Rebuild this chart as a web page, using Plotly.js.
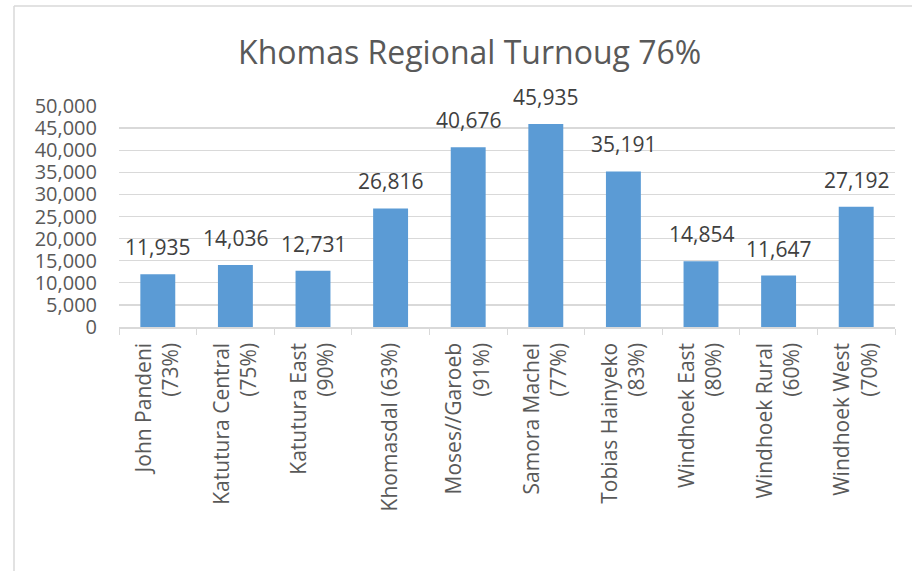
<!DOCTYPE html>
<html>
<head>
<meta charset="utf-8">
<script src="https://cdn.plot.ly/plotly-3.0.1.min.js"></script>
<style>html,body{margin:0;padding:0;background:#fff;}#chart{width:912px;height:571px;}</style>
</head>
<body>
<div id="chart"></div>
<script>
const constituencies = [
  "John Pandeni<br>(73%)",
  "Katutura Central<br>(75%)",
  "Katutura East<br>(90%)",
  "Khomasdal (63%)",
  "Moses//Garoeb<br>(91%)",
  "Samora Machel<br>(77%)",
  "Tobias Hainyeko<br>(83%)",
  "Windhoek East<br>(80%)",
  "Windhoek Rural<br>(60%)",
  "Windhoek West<br>(70%)"
];
const votes = [11935, 14036, 12731, 26816, 40676, 45935, 35191, 14854, 11647, 27192];
const yTicks = [0, 5000, 10000, 15000, 20000, 25000, 30000, 35000, 40000, 45000, 50000];
const titleText = "Khomas Regional Turnoug 76%";

const FONT = "Open Sans, sans-serif";
const fmt = v => v.toLocaleString("en-US");

const trace = {
  type: "bar",
  x: constituencies,
  y: votes,
  marker: {color: "#5B9BD5"},
  hoverinfo: "x+y"
};

const labels = constituencies.map((c, i) => ({
  xref: "x", yref: "y",
  x: c, y: votes[i],
  text: fmt(votes[i]),
  showarrow: false,
  yanchor: "bottom",
  yshift: 11,
  font: {family: FONT, size: 21, color: "#404040"}
}));

const layout = {
  width: 912,
  height: 571,
  margin: {l: 119, r: 17, t: 106, b: 244},
  paper_bgcolor: "#ffffff",
  plot_bgcolor: "#ffffff",
  showlegend: false,
  bargap: 0.55,
  title: {
    text: titleText,
    font: {family: FONT, size: 32, color: "#595959"},
    x: 0.515, xanchor: "center",
    y: 0.907, yanchor: "middle"
  },
  xaxis: {
    type: "category",
    tickangle: -90,
    tickfont: {family: FONT, size: 21, color: "#595959"},
    showline: true,
    linecolor: "#d9d9d9",
    linewidth: 1.5,
    ticks: "outside",
    tickson: "boundaries",
    ticklen: 6,
    tickcolor: "#d9d9d9",
    ticklabelstandoff: 6,
    showgrid: false,
    automargin: false
  },
  yaxis: {
    range: [0, 50000],
    tickvals: yTicks,
    ticktext: yTicks.map(fmt),
    tickfont: {family: FONT, size: 20, color: "#595959"},
    showgrid: true,
    gridcolor: "#d9d9d9",
    gridwidth: 1.3,
    zeroline: false,
    showline: false,
    ticks: "",
    ticklabelstandoff: 21,
    automargin: false
  },
  annotations: labels,
  shapes: [
    {type: "line", xref: "paper", yref: "paper", x0: -0.1353, x1: -0.1353, y0: -1.2, y1: 1.4525,
     line: {color: "#d9d9d9", width: 1.5}},
    {type: "line", xref: "paper", yref: "paper", x0: -0.1353, x1: 1.05, y0: 1.4525, y1: 1.4525,
     line: {color: "#d9d9d9", width: 1.5}}
  ]
};

Plotly.newPlot("chart", [trace], layout, {displayModeBar: false, staticPlot: true});
</script>
</body>
</html>
